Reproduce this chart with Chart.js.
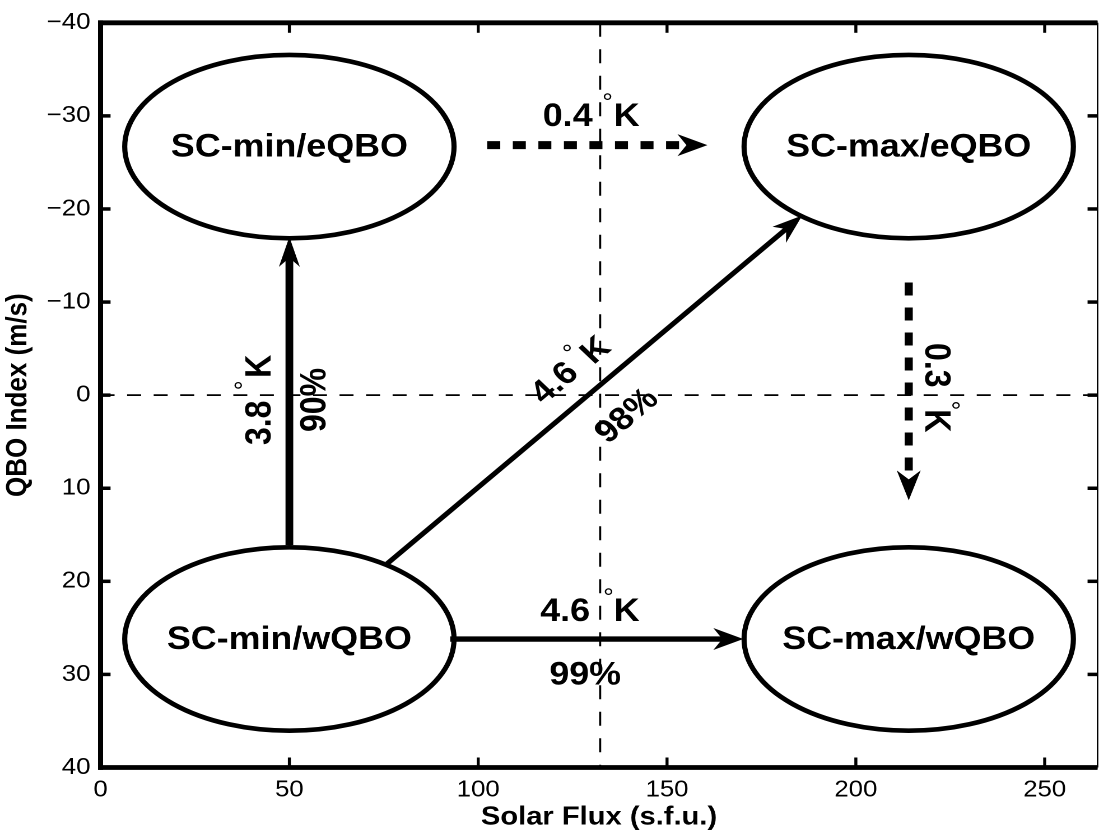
<!DOCTYPE html>
<html><head><meta charset="utf-8">
<script src="https://cdn.jsdelivr.net/npm/chart.js@4.4.1/dist/chart.umd.min.js"></script>
<style>
html,body{margin:0;padding:0;background:#fff;overflow:hidden;}
#wrap{width:981px;height:831px;transform:scaleX(1.120285);transform-origin:0 0;}
</style></head>
<body>
<div id="wrap"><canvas id="c" width="981" height="831"></canvas></div>
<script>
// ---------- data ----------
const states      = ['SC-min/eQBO', 'SC-max/eQBO', 'SC-min/wQBO', 'SC-max/wQBO'];
const stateFlux   = [50, 214, 50, 214];          // s.f.u.
const stateQBO    = [-26.7, -26.7, 26.2, 26.2];  // m/s
const xTicks      = [0, 50, 100, 150, 200, 250];
const yTicks      = [-40, -30, -20, -10, 0, 10, 20, 30, 40];
const refFlux     = 132.3;
const refQBO      = 0;
// transitions (arrows)
const fromFlux    = [50, 75.9, 92.6, 102.4, 214];
const fromQBO     = [16.1, 18.1, 26.2, -26.86, -12.1];
const toFlux      = [50, 185.8, 170.2, 160.7, 214];
const toQBO       = [-17.0, -19.3, 26.2, -26.86, 11.3];
const deltaK      = [3.8, 4.6, 4.6, 0.4, 0.3];
const signif      = [90, 98, 99, null, null];

// ---------- layout / style ----------
const SX = 1099 / 981;
const X_MIN = 0, X_MAX = 264, Y_MIN = -40, Y_MAX = 40;
const FONT = '"Liberation Sans", Arial, Helvetica, sans-serif';
const ELL_RX = 43.6, ELL_RY = 9.85;
const arrowWidth = [6.9, 4.8, 5.3, 8, 7.2];
const arrowDash  = [[], [], [], [11.6, 11.2], [13, 12]];
const headHalf   = [10.5, 10.5, 11, 11, 12];
const noteLayout = [
  {a:0, part:'val',  x:42.37,  y:2.97,   o:'up'},
  {a:0, part:'deg',  x:36.94,  y:-1.06,  o:'up'},
  {a:0, part:'unit', x:42.37,  y:-3.10,  o:'up'},
  {a:0, part:'sig',  x:56.94,  y:0.52,   o:'up'},
  {a:1, part:'val',  x:120.38, y:-1.24,  o:'diag'},
  {a:1, part:'deg',  x:123.83, y:-4.96,  o:'diag'},
  {a:1, part:'unit', x:131.25, y:-4.75,  o:'diag'},
  {a:1, part:'sig',  x:139.46, y:2.27,   o:'diag'},
  {a:2, part:'val',  x:123.03, y:23.33,  o:'h'},
  {a:2, part:'deg',  x:134.5,  y:21.29,  o:'h'},
  {a:2, part:'unit', x:139.33, y:23.33,  o:'h'},
  {a:2, part:'sig',  x:128.33, y:30.16,  o:'h'},
  {a:3, part:'val',  x:123.7,  y:-29.84, o:'h'},
  {a:3, part:'deg',  x:134.24, y:-31.92, o:'h'},
  {a:3, part:'unit', x:139.33, y:-29.84, o:'h'},
  {a:4, part:'val',  x:221.05, y:-3.21,  o:'down'},
  {a:4, part:'deg',  x:226.08, y:1.10,   o:'down'},
  {a:4, part:'unit', x:221.05, y:2.75,   o:'down'}
];

function arrowGeom(chart, i) {
  const xs = chart.scales.x, ys = chart.scales.y;
  const sx = xs.getPixelForValue(fromFlux[i]) * SX, sy = ys.getPixelForValue(fromQBO[i]);
  const tx = xs.getPixelForValue(toFlux[i]) * SX,   ty = ys.getPixelForValue(toQBO[i]);
  const L = Math.hypot(tx - sx, ty - sy);
  const ux = (tx - sx) / L, uy = (ty - sy) / L;
  return {sx, sy, tx, ty, ux, uy, nx: -uy, ny: ux};
}

const ARROW_OFFSET = 2;

const diagramPlugin = {
  id: 'qboDiagram',
  beforeDatasetDraw(chart, args) {
    const i = args.index - ARROW_OFFSET;
    if (i < 0) return;
    const g = arrowGeom(chart, i);
    const ctx = chart.ctx;
    const back = 18, fwd = 40, half = 40;
    const p = [
      [g.tx - g.ux*back + g.nx*half, g.ty - g.uy*back + g.ny*half],
      [g.tx + g.ux*fwd  + g.nx*half, g.ty + g.uy*fwd  + g.ny*half],
      [g.tx + g.ux*fwd  - g.nx*half, g.ty + g.uy*fwd  - g.ny*half],
      [g.tx - g.ux*back - g.nx*half, g.ty - g.uy*back - g.ny*half]
    ];
    ctx.save();
    ctx.beginPath();
    ctx.rect(0, 0, chart.width, chart.height);
    ctx.moveTo(p[0][0]/SX, p[0][1]);
    for (let k = 1; k < 4; k++) ctx.lineTo(p[k][0]/SX, p[k][1]);
    ctx.closePath();
    ctx.clip('evenodd');
  },
  afterDatasetDraw(chart, args) {
    if (args.index >= ARROW_OFFSET) chart.ctx.restore();
  },
  afterDatasetsDraw(chart) {
    const ctx = chart.ctx, xs = chart.scales.x, ys = chart.scales.y;
    // ellipses + state names
    ctx.save();
    ctx.strokeStyle = '#000';
    ctx.lineWidth = 4.6;
    for (let k = 0; k < states.length; k++) {
      const cx = xs.getPixelForValue(stateFlux[k]);
      const cy = ys.getPixelForValue(stateQBO[k]);
      const rx = Math.abs(xs.getPixelForValue(stateFlux[k] + ELL_RX) - cx);
      const ry = Math.abs(ys.getPixelForValue(stateQBO[k] + ELL_RY) - cy);
      ctx.beginPath();
      ctx.ellipse(cx, cy, rx, ry, 0, 0, Math.PI * 2);
      ctx.stroke();
      ctx.fillStyle = '#000';
      ctx.font = 'bold 32px ' + FONT;
      ctx.textAlign = 'center';
      ctx.textBaseline = 'middle';
      ctx.fillText(states[k], cx, cy + 1);
    }
    ctx.restore();
    // arrow heads
    ctx.save();
    ctx.fillStyle = '#000';
    for (let i = 0; i < fromFlux.length; i++) {
      const g = arrowGeom(chart, i);
      const L = 30, N = 21, W = headHalf[i];
      const pts = [
        [g.tx, g.ty],
        [g.tx - g.ux*L + g.nx*W, g.ty - g.uy*L + g.ny*W],
        [g.tx - g.ux*N, g.ty - g.uy*N],
        [g.tx - g.ux*L - g.nx*W, g.ty - g.uy*L - g.ny*W]
      ];
      ctx.beginPath();
      ctx.moveTo(pts[0][0]/SX, pts[0][1]);
      for (let k = 1; k < 4; k++) ctx.lineTo(pts[k][0]/SX, pts[k][1]);
      ctx.closePath();
      ctx.fill();
    }
    ctx.restore();
    // transition annotations
    const dg = arrowGeom(chart, 1);
    const diagAngle = Math.atan2(dg.uy, dg.ux / SX);
    ctx.save();
    ctx.fillStyle = '#000';
    ctx.textAlign = 'center';
    ctx.textBaseline = 'middle';
    noteLayout.forEach(n => {
      let txt, size = 32, weight = 'bold', dy = 0;
      if (n.part === 'val') txt = deltaK[n.a].toFixed(1);
      else if (n.part === 'unit') txt = 'K';
      else if (n.part === 'sig') txt = signif[n.a] + '%';
      else { txt = '\u00B0'; size = 24; weight = 'normal'; dy = 0.22 * size; }
      const rot = n.o === 'up' ? -Math.PI/2 : n.o === 'down' ? Math.PI/2 : n.o === 'diag' ? diagAngle : 0;
      ctx.save();
      ctx.translate(xs.getPixelForValue(n.x), ys.getPixelForValue(n.y));
      ctx.rotate(rot);
      ctx.font = weight + ' ' + size + 'px ' + FONT;
      ctx.fillText(txt, 0, dy);
      ctx.restore();
    });
    ctx.restore();
  },
  afterDraw(chart) {
    const ctx = chart.ctx, xs = chart.scales.x, ys = chart.scales.y, ca = chart.chartArea;
    ctx.save();
    ctx.strokeStyle = '#000';
    ctx.lineCap = 'butt';
    const seg = (a, b, c, d) => { ctx.beginPath(); ctx.moveTo(a, b); ctx.lineTo(c, d); ctx.stroke(); };
    ctx.lineWidth = 2.7;
    xs.ticks.forEach(t => {
      const px = xs.getPixelForValue(t.value);
      seg(px, ca.bottom, px, ca.bottom - 10);
      seg(px, ca.top, px, ca.top + 10);
    });
    ctx.lineWidth = 3.5;
    ys.ticks.forEach(t => {
      const py = ys.getPixelForValue(t.value);
      seg(ca.left, py, ca.left + 10 / SX, py);
      seg(ca.right, py, ca.right - 10 / SX, py);
    });
    ctx.lineWidth = 4.8;
    seg(ca.left - 2.2, ca.top, ca.right, ca.top);
    seg(ca.left - 2.2, ca.bottom, ca.right, ca.bottom);
    ctx.lineWidth = 4.5;
    seg(ca.left, ca.top - 2.4, ca.left, ca.bottom + 2.4);
    ctx.lineWidth = 1.4;
    seg(ca.right, ca.top, ca.right, ca.bottom);
    ctx.restore();
  }
};

const lineBase = {showLine: true, pointRadius: 0, pointHoverRadius: 0, borderColor: '#000', fill: false, tension: 0, borderCapStyle: 'butt'};
const datasets = [
  Object.assign({}, lineBase, {label: 'Solar flux reference', data: [{x: refFlux, y: Y_MIN}, {x: refFlux, y: Y_MAX}], borderWidth: 1.8, borderDash: [14, 12.5]}),
  Object.assign({}, lineBase, {label: 'QBO reference', data: [{x: X_MIN, y: refQBO}, {x: X_MAX, y: refQBO}], borderWidth: 1.8, borderDash: [12.5, 11.2]})
];
for (let i = 0; i < fromFlux.length; i++) {
  datasets.push(Object.assign({}, lineBase, {
    label: 'transition ' + (i + 1),
    data: [{x: fromFlux[i], y: fromQBO[i]}, {x: toFlux[i], y: toQBO[i]}],
    borderWidth: arrowWidth[i],
    borderDash: arrowDash[i]
  }));
}

const tickFont = {family: FONT, size: 23};
const titleFont = {family: FONT, size: 26, weight: 'bold'};
new Chart(document.getElementById('c'), {
  type: 'scatter',
  data: {datasets},
  options: {
    responsive: false,
    animation: false,
    devicePixelRatio: 2,
    layout: {padding: {top: 15.8, right: 1.3, left: 0, bottom: 0}},
    plugins: {legend: {display: false}, tooltip: {enabled: false}},
    events: [],
    scales: {
      x: {
        type: 'linear', min: X_MIN, max: X_MAX,
        grid: {display: false, drawTicks: false},
        border: {display: false},
        afterBuildTicks: s => { s.ticks = xTicks.map(v => ({value: v})); },
        afterFit: s => { s.height = 63.5; },
        ticks: {font: tickFont, color: '#000', padding: 9, autoSkip: false, maxRotation: 0,
                callback: v => (v < 0 ? '\u2212' + Math.abs(v) : String(v))},
        title: {display: true, text: 'Solar Flux (s.f.u.)', color: '#000', font: titleFont, padding: {top: 0, bottom: -2}}
      },
      y: {
        type: 'linear', min: Y_MIN, max: Y_MAX, reverse: true,
        grid: {display: false, drawTicks: false},
        border: {display: false},
        afterBuildTicks: s => { s.ticks = yTicks.map(v => ({value: v})); },
        afterFit: s => { s.width = 89.75; },
        ticks: {font: tickFont, color: '#000', padding: 9, autoSkip: false,
                callback: v => (v < 0 ? '\u2212' + Math.abs(v) : String(v))},
        title: {display: true, text: 'QBO Index (m/s)', color: '#000', font: titleFont, padding: {top: 0.5, bottom: 0}}
      }
    }
  },
  plugins: [diagramPlugin]
});
</script>
</body></html>
